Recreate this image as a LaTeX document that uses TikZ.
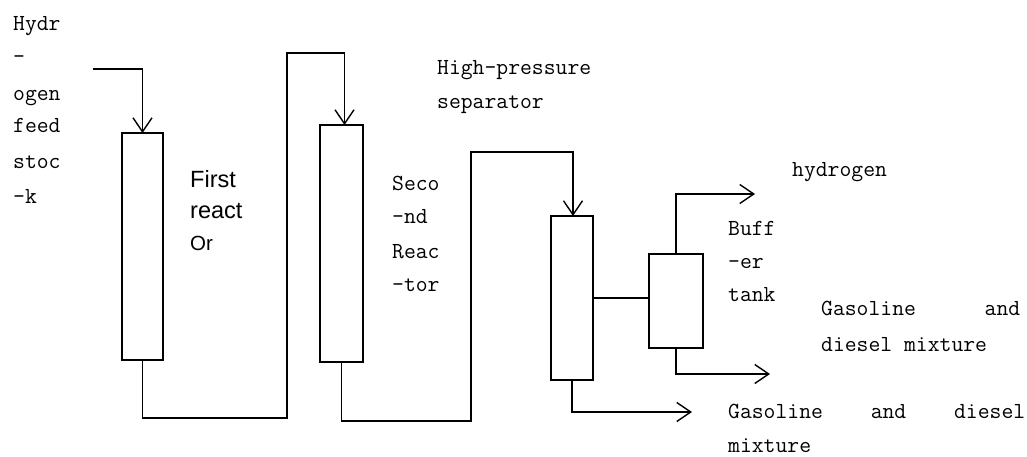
\documentclass[tikz,border=0pt]{standalone}
\usepackage{fontspec}
\setmainfont{Liberation Sans}
\usetikzlibrary{arrows.meta}
\tikzset{
  vessel/.style={draw, line width=1.4pt, rectangle, inner sep=0pt, outer sep=0pt},
  pipe/.style={line width=1.4pt},
  flow/.style={pipe, -{Straight Barb[length=14pt,width=19pt,line width=1.4pt]}},
  mono/.style={anchor=base west, inner sep=0pt, font=\ttfamily\fontsize{23}{27}\selectfont},
  sans/.style={anchor=base west, inner sep=0pt, font=\fontsize{23.5}{28}\selectfont},
}
\begin{document}
\begin{tikzpicture}[x=1pt,y=-1pt]
\useasboundingbox (0,0) rectangle (1027,457);
% vessels
\node[vessel, minimum width=41pt, minimum height=227pt] (r1) at (142.5,246.5) {};
\node[vessel, minimum width=43pt, minimum height=237pt] (r2) at (341.5,243.5) {};
\node[vessel, minimum width=42pt, minimum height=164pt] (sep) at (572,298) {};
\node[vessel, minimum width=54pt, minimum height=94pt] (buf) at (676,301) {};
% way points
\coordinate (feedin) at (93,69);
\coordinate (c1) at (287,418);
\coordinate (c2) at (287,53);
\coordinate (c3) at (471,421);
\coordinate (c4) at (471,152);
\coordinate (out1) at (692,412);
\coordinate (h2out) at (755,194);
\coordinate (out2) at (770,374);
% connectors
\draw[flow] (feedin) -| (r1.north);
\draw[flow] (r1.south) |- (c1) -- (c2) -| ([xshift=3pt]r2.north);
\draw[flow] (r2.south) |- (c3) -- (c4) -| ([xshift=1pt]sep.north);
\draw[flow] (sep.south) |- (out1);
\draw[pipe] (sep.east) -- (sep.east -| buf.west);
\draw[flow] (buf.north) |- (h2out);
\draw[flow] (buf.south) |- (out2);
% labels
\node[mono] (f1) at (13,31) {Hydr};
\node[mono] (f2) at (13,64) {-};
\node[mono] (f3) at (13,101) {ogen};
\node[mono] (f4) at (13,133) {feed};
\node[mono] (f5) at (13,168) {stoc};
\node[mono] (f6) at (13,204) {-k};
\node[sans] (a1) at (190,188) {First};
\node[sans] (a2) at (190,218) {react};
\node[sans, font=\fontsize{20.5}{24}\selectfont] (a3) at (190,250) {Or};
\node[mono] (b1) at (392,190) {Seco};
\node[mono] (b2) at (392,223) {-nd};
\node[mono] (b3) at (392,258) {Reac};
\node[mono] (b4) at (392,291) {-tor};
\node[mono] (p1) at (437,75) {High-pressure};
\node[mono] (p2) at (437,109) {separator};
\node[mono] (hy) at (792,177) {hydrogen};
\node[mono] (t1) at (728,235) {Buff};
\node[mono] (t2) at (728,268) {-er};
\node[mono] (t3) at (728,301) {tank};
\node[mono] (g1) at (821,315) {\makebox[199pt][l]{Gasoline\hfill and}};
\node[mono] (g2) at (821,351) {diesel mixture};
\node[mono] (k1) at (728,418) {\makebox[297pt][l]{Gasoline\hfill and\hfill diesel}};
\node[mono] (k2) at (728,452) {mixture};
\end{tikzpicture}
\end{document}
